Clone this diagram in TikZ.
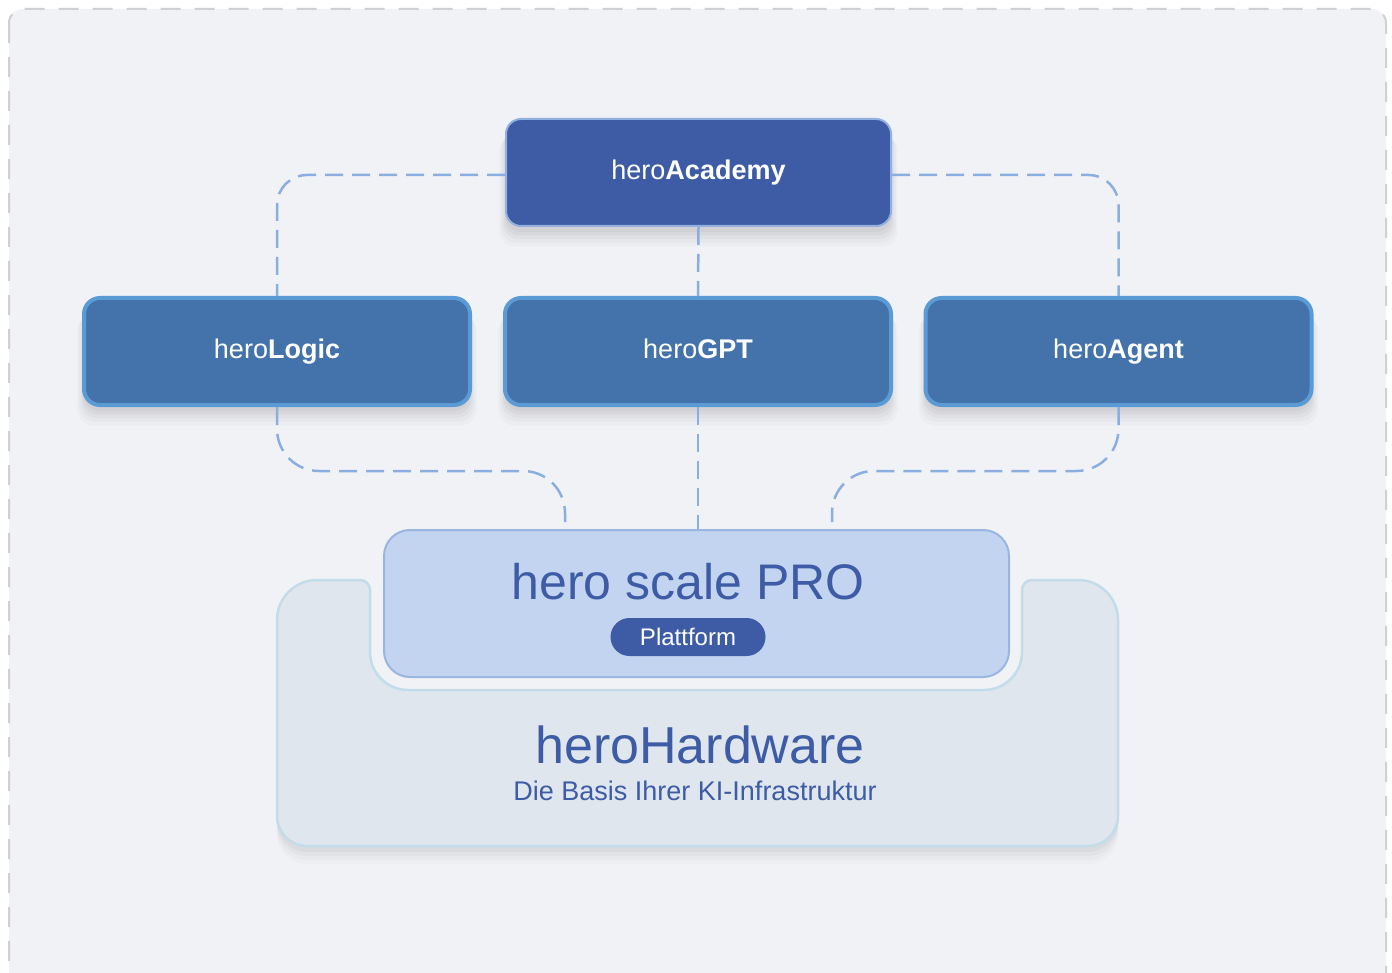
\documentclass[tikz,border=0pt]{standalone}
\usepackage{fontspec}
\setmainfont{Liberation Sans}
\usetikzlibrary{calc,shadows}
\definecolor{canvas}{HTML}{F1F2F6}
\definecolor{frameline}{HTML}{D0D0D2}
\definecolor{academyblue}{HTML}{3D5CA5}
\definecolor{academyline}{HTML}{93B1E0}
\definecolor{productblue}{HTML}{4373AA}
\definecolor{productline}{HTML}{5B9BD5}
\definecolor{linkblue}{HTML}{8AAEE0}
\definecolor{scalefill}{HTML}{C2D4EF}
\definecolor{scaleline}{HTML}{98B6E0}
\definecolor{hwfill}{HTML}{DFE6EE}
\definecolor{hwline}{HTML}{C3DCEA}
\tikzset{softshadow/.style={
    general shadow={shadow scale=1.035,shadow yshift=-18pt,opacity=.018,fill=black},
    general shadow={shadow scale=1.025,shadow yshift=-15pt,opacity=.022,fill=black},
    general shadow={shadow scale=1.015,shadow yshift=-12pt,opacity=.026,fill=black},
    general shadow={shadow scale=1.008,shadow yshift=-9pt,opacity=.03,fill=black},
    general shadow={shadow yshift=-6pt,opacity=.03,fill=black}}}
\tikzset{topbox/.style={draw=academyline,fill=academyblue,line width=2pt,
    rounded corners=15pt,minimum width=385pt,minimum height=107pt,
    text height=21pt,text depth=6pt,
    text=white,font=\fontsize{27}{30}\selectfont,softshadow}}
\tikzset{product/.style={draw=productline,fill=productblue,line width=4pt,
    rounded corners=16pt,minimum width=386pt,minimum height=107pt,
    text height=21pt,text depth=6pt,
    text=white,font=\fontsize{27}{30}\selectfont,softshadow}}
\tikzset{link/.style={draw=linkblue,line width=2.5pt,dash pattern=on 18pt off 9pt}}
\tikzset{title/.style={text=academyblue,inner sep=0pt,font=\fontsize{#1}{#1}\selectfont},title/.default=48}

\begin{document}
\begin{tikzpicture}[x=1pt,y=-1pt]

	% Der Rahmen
	\clip (0,0) rectangle (1392,973);
	\filldraw [fill=canvas,draw=frameline,line width=2pt,dash pattern=on 20pt off 14pt,
		rounded corners=14pt] (9,9) rectangle (1386,995);

	% Die Knoten oben
	\node [topbox]  (academy) at (698.5,172.5) {hero\textbf{Academy}};
	\node [product] (logic)   at (277,351.5)   {hero\textbf{Logic}};
	\node [product] (gpt)     at (698,351.5)   {hero\textbf{GPT}};
	\node [product] (agent)   at (1118.5,351.5) {hero\textbf{Agent}};

	% Die Plattform
	\coordinate (scale center) at (696.5,603.5);

	% Die Hardware (Schatten und Form)
	\foreach \dy/\op in {6/.03,10/.025,14/.02,18/.015}
	\fill [black,opacity=\op,yshift=-\dy pt]
		(277,760) [rounded corners=40pt] -- (277,580) [rounded corners=10pt] -- (370,580)
		[rounded corners=38pt] -- (370,690) -- (1022,690) [rounded corners=10pt] -- (1022,580)
		[rounded corners=40pt] -- (1118,580) [rounded corners=30pt] -- (1118,846) -- (277,846) -- cycle;
	\filldraw [fill=hwfill,draw=hwline,line width=2.5pt]
		(277,760) [rounded corners=40pt] -- (277,580) [rounded corners=10pt] -- (370,580)
		[rounded corners=38pt] -- (370,690) -- (1022,690) [rounded corners=10pt] -- (1022,580)
		[rounded corners=40pt] -- (1118,580) [rounded corners=30pt] -- (1118,846) -- (277,846) -- cycle;

	\node [draw=scaleline,fill=scalefill,line width=2pt,rounded corners=26pt,
		minimum width=625pt,minimum height=147pt] (scale) at (scale center) {};

	% Die Verbindungen
	\coordinate (left bend)  at (565,471);
	\coordinate (left in)    at (565,522);
	\coordinate (right bend) at (832,471);
	\coordinate (right in)   at (832,522);

	\draw [link,rounded corners=30pt] ([yshift=-2.5pt]academy.west) -| (logic.north);
	\draw [link,rounded corners=30pt] ([yshift=-2.5pt]academy.east) -| (agent.north);
	\draw [link] (academy.south) -- (gpt.north);
	\draw [link,rounded corners=42pt] (logic.south) |- (left bend) -- (left in);
	\draw [link,rounded corners=42pt] (agent.south) |- (right bend) -- (right in);
	\draw [link] (gpt.south) -- (gpt.south |- scale.north);

	% Texte der Plattform
	\node [title=50] (scale title) at (688,582) {hero scale PRO};
	\node [fill=academyblue,text=white,rounded corners=19pt,minimum width=155pt,
		minimum height=38pt,inner sep=0pt,font=\fontsize{24}{24}\selectfont]
		(platform) at (688,637) {Plattform};

	% Texte der Hardware
	\node [title=52] (hw title) at (700,745) {heroHardware};
	\node [title=27] (hw sub)   at (695,791) {Die Basis Ihrer KI-Infrastruktur};

\end{tikzpicture}
\end{document}
